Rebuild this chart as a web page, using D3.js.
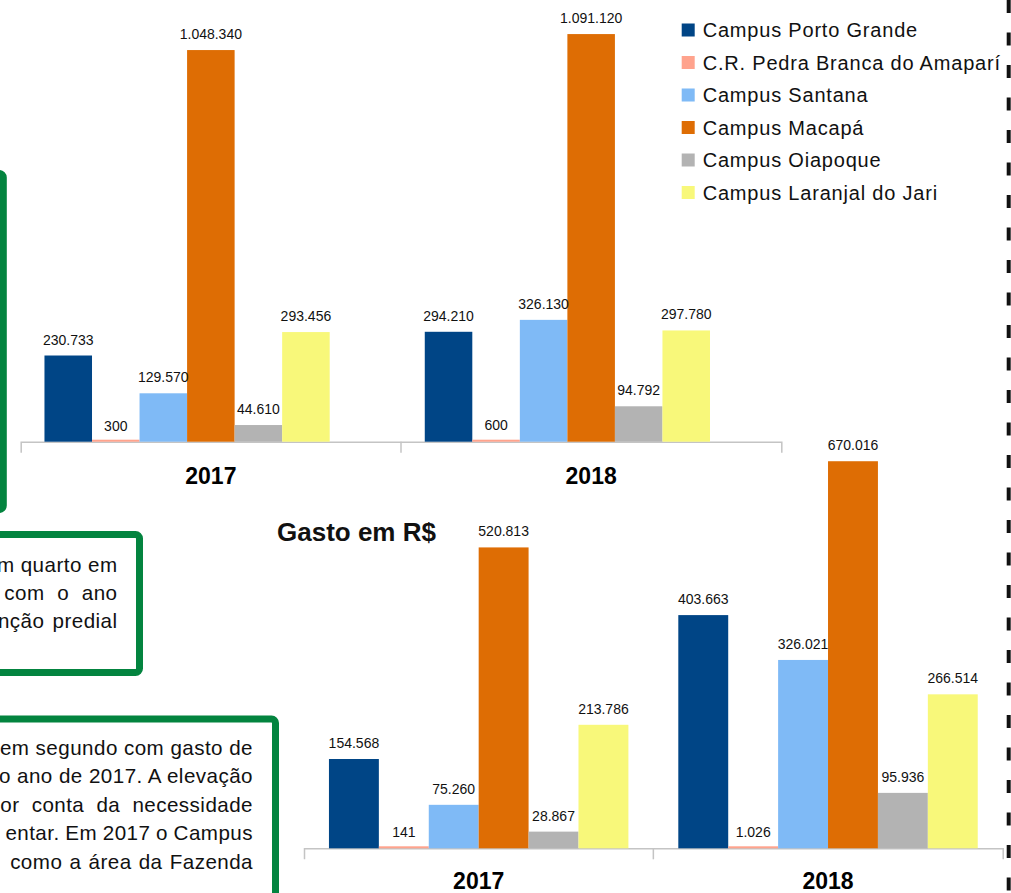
<!DOCTYPE html>
<html>
<head>
<meta charset="utf-8">
<script src="https://cdn.jsdelivr.net/npm/d3@7"></script>
<style>
  body { margin: 0; background: #fff; }
  svg { display: block; font-family: "Liberation Sans", Arial, sans-serif; }
</style>
</head>
<body>
<svg width="1011" height="893"></svg>
<script>
const years = ['2017', '2018'];
const campuses = [
  'Campus Porto Grande',
  'C.R. Pedra Branca do Amaparí',
  'Campus Santana',
  'Campus Macapá',
  'Campus Oiapoque',
  'Campus Laranjal do Jari'
];
const colors = ['#004586', '#ffa38d', '#7fbaf6', '#de6d04', '#b3b3b3', '#f8f87a'];

// upper chart (its title is cut off above the page)
const upper2017 = [230733, 300, 129570, 1048340, 44610, 293456];
const upper2018 = [294210, 600, 326130, 1091120, 94792, 297780];

// lower chart - Gasto em R$
const lower2017 = [154568, 141, 75260, 520813, 28867, 213786];
const lower2018 = [403663, 1026, 326021, 670016, 95936, 266514];

// text of the framed paragraphs (left part lies off the page)
const box2Lines = ['m quarto em', 'com o ano', 'nção predial'];
const box3Lines = [
  'em segundo com gasto de',
  'o ano de 2017. A elevação',
  'por conta da necessidade',
  'entar. Em 2017 o Campus',
  'como a área da Fazenda'
];

const svg = d3.select('svg');
const green = '#03843f';

const br = d3.formatLocale({ decimal: ',', thousands: '.', grouping: [3], currency: ['R$', ''] });
const fmt = br.format(',d');

const drawChart = cfg => {
  const g = svg.append('g');

  const x0 = d3.scaleBand()
    .domain(years)
    .range(cfg.xRange);

  // one slot per series, half a slot of padding on each side
  const x1 = d3.scaleBand()
    .domain(d3.range(cfg.slots))
    .range([0, x0.bandwidth()])
    .paddingOuter(0.5);

  const y = d3.scaleLinear()
    .domain([0, cfg.yMax])
    .range([cfg.base, cfg.base - cfg.yPx]);

  const xAxis = d3.axisBottom(x0)
    .tickSize(0)
    .tickSizeOuter(11)
    .tickPadding(cfg.labelPad);

  const xAxisG = g.append('g')
    .attr('transform', `translate(0,${cfg.base})`)
    .attr('font-family', null)
    .attr('font-size', null)
    .call(xAxis);

  xAxisG.select('.domain')
    .attr('stroke', '#c4c4c4')
    .attr('stroke-width', 1.5);

  xAxisG.append('line')
    .attr('x1', x0(years[1]))
    .attr('x2', x0(years[1]))
    .attr('y1', 0)
    .attr('y2', 11)
    .attr('stroke', '#c4c4c4')
    .attr('stroke-width', 1.5);

  xAxisG.selectAll('.tick text')
    .attr('font-size', 23)
    .attr('font-weight', 'bold')
    .attr('fill', '#000');

  const groups = g.selectAll('.year')
    .data(years.map((yr, k) => ({ year: yr, values: cfg.values[k] })))
    .enter().append('g')
      .attr('class', 'year')
      .attr('transform', d => `translate(${x0(d.year)},0)`);

  groups.selectAll('rect')
    .data(d => d.values)
    .enter().append('rect')
      .attr('x', (v, i) => x1(i))
      .attr('width', x1.bandwidth())
      .attr('y', v => Math.min(y(v), cfg.base - 2))
      .attr('height', v => Math.max(cfg.base - y(v), 2))
      .attr('fill', (v, i) => colors[i]);

  groups.selectAll('text.val')
    .data(d => d.values)
    .enter().append('text')
      .attr('class', 'val')
      .attr('x', (v, i) => x1(i) + x1.bandwidth() / 2)
      .attr('y', v => y(v) - 11)
      .attr('text-anchor', 'middle')
      .attr('font-size', 14)
      .attr('fill', '#111')
      .text(v => fmt(v));
};

drawChart({
  values: [upper2017, upper2018],
  xRange: [20.7, 781.3],
  slots: 7,
  base: 441.7,
  yMax: 1200000,
  yPx: 448.3,
  labelPad: 26
});

drawChart({
  values: [lower2017, lower2018],
  xRange: [304, 1002.7],
  slots: 6,
  base: 848.3,
  yMax: 700000,
  yPx: 404.4,
  labelPad: 24.5
});

// legend
const legend = svg.append('g')
  .attr('transform', 'translate(681.7,30)');

const item = legend.selectAll('g')
  .data(campuses)
  .enter().append('g')
    .attr('transform', (d, i) => `translate(0,${i * 32.5})`);

item.append('rect')
  .attr('x', 0)
  .attr('y', -6.5)
  .attr('width', 13)
  .attr('height', 13)
  .attr('fill', (d, i) => colors[i]);

item.append('text')
  .attr('x', 21)
  .attr('y', 7)
  .attr('font-size', 20)
  .attr('letter-spacing', 0.8)
  .attr('fill', '#111')
  .text(d => d);

// title of the lower chart
svg.append('text')
  .attr('x', 277)
  .attr('y', 541)
  .attr('font-size', 26)
  .attr('font-weight', 'bold')
  .attr('fill', '#111')
  .text('Gasto em R$');

// green frames of the text column
const frame = (x, y, w, h) => svg.append('rect')
  .attr('x', x).attr('y', y)
  .attr('width', w).attr('height', h)
  .attr('rx', 4)
  .attr('fill', 'none')
  .attr('stroke', green)
  .attr('stroke-width', 7);

frame(-300, 173.5, 303.3, 336);
frame(-300, 534.5, 439.5, 138);
frame(-300, 719, 575.5, 300);

const para = (lines, right, top, spacing) => svg.append('g')
  .selectAll('text')
  .data(lines)
  .enter().append('text')
    .attr('x', right)
    .attr('y', (d, i) => top + i * 28.4)
    .attr('text-anchor', 'end')
    .attr('font-size', 20.6)
    .attr('letter-spacing', 0.45)
    .attr('word-spacing', (d, i) => spacing[i])
    .attr('fill', '#111')
    .text(d => d);

para(box2Lines, 117.5, 571.5, [0, 6.5, 2]);
para(box3Lines, 253, 755, [0, 0, 6, -0.5, 1]);

// dashed rule at the right edge of the page
svg.append('line')
  .attr('x1', 1008.7).attr('x2', 1008.7)
  .attr('y1', 0).attr('y2', 893)
  .attr('stroke', '#111')
  .attr('stroke-width', 4)
  .attr('stroke-dasharray', '13 19.5');
</script>
</body>
</html>
